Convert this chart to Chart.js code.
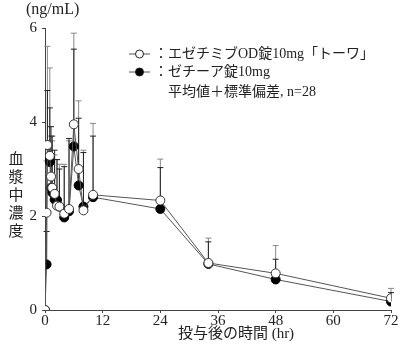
<!DOCTYPE html>
<html>
<head>
<meta charset="utf-8">
<script src="https://cdn.jsdelivr.net/npm/chart.js@4.4.0/dist/chart.umd.min.js"></script>
<style>
  html, body { margin: 0; padding: 0; background: #fff; }
  #wrap { width: 400px; height: 351px; position: relative; }
</style>
</head>
<body>
<div id="wrap"><canvas id="myChart"></canvas></div>
<script>
// ---------------- 데이터 ----------------
const hours = [0, 0.33, 0.5, 1, 1.25, 1.5, 2, 2.5, 3, 4, 5, 6, 7, 8, 10, 24, 34, 48, 72];
// エゼチミブOD錠10mg「トーワ」
const odMean = [0, 2.07, 3.51, 3.28, 2.84, 2.6, 2.47, 2.22, 2.2, 2.05, 2.15, 3.95, 3.0, 2.12, 2.45, 2.33, 1.0, 0.78, 0.25];
const odSd = [0, 1.1, 2.1, 1.87, 0.86, 1.0, 0.83, 0.98, 0.9, 1.05, 1.45, 1.94, 1.45, 1.28, 1.52, 0.88, 0.53, 0.59, 0.21];
// ゼチーア錠10mg
const zetiaMean = [0, 0.97, 3.22, 3.15, 2.6, 2.5, 2.35, 2.34, 2.2, 1.97, 2.1, 3.48, 2.65, 2.2, 2.4, 2.15, 0.98, 0.65, 0.18];
const zetiaSd = [0, 0.7, 1.45, 1.15, 1.3, 1.2, 1.05, 0.86, 0.8, 1.08, 1.55, 2.07, 1.43, 1.15, 1.3, 0.88, 0.47, 0.43, 0.19];

const xTicks = [0, 12, 24, 36, 48, 60, 72];
const yTicks = [0, 2, 4, 6];

const SERIF = "'Liberation Serif', 'Noto Sans CJK JP', serif";
const JP = "'Liberation Serif', 'Noto Sans CJK JP', sans-serif";

function toPoints(mean) {
  return hours.map((h, i) => ({ x: h, y: mean[i] }));
}

// ---------------- 에러바 (평균 + 표준편차) ----------------
const errorBarPlugin = {
  id: "errorBars",
  beforeDatasetsDraw(chart) {
    const ctx = chart.ctx;
    const xs = chart.scales.x;
    const ys = chart.scales.y;
    chart.data.datasets.forEach((ds) => {
      ctx.save();
      ctx.strokeStyle = ds.errColor;
      ctx.lineWidth = 1;
      ds.data.forEach((p, i) => {
        const sd = ds.sd[i];
        if (!sd) return;
        const px = xs.getPixelForValue(p.x);
        const y0 = ys.getPixelForValue(p.y);
        const y1 = ys.getPixelForValue(p.y + sd);
        ctx.beginPath();
        ctx.moveTo(px, y0);
        ctx.lineTo(px, y1);
        ctx.moveTo(px - 3, y1);
        ctx.lineTo(px + 3, y1);
        ctx.stroke();
      });
      ctx.restore();
    });
  },
};

// ---------------- 텍스트 (범례, 축 제목) ----------------
const textPlugin = {
  id: "texts",
  afterDraw(chart) {
    const ctx = chart.ctx;
    ctx.save();
    ctx.fillStyle = "#222";
    ctx.textBaseline = "middle";

    // 단위
    ctx.font = "16px " + SERIF;
    ctx.textAlign = "left";
    ctx.fillText("(ng/mL)", 26, 10);

    // 세로 제목
    ctx.font = "15px " + JP;
    ctx.textAlign = "center";
    const chars = "血漿中濃度".split("");
    chars.forEach((c, i) => ctx.fillText(c, 16, 160 + i * 18));

    // x축 제목
    ctx.fillText("投与後の時間 (hr)", 236, 334);

    // 범례
    const rows = [
      { y: 54, fill: "#fff", text: "：エゼチミブOD錠10mg「トーワ」" },
      { y: 72, fill: "#000", text: "：ゼチーア錠10mg" },
    ];
    rows.forEach((r) => {
      ctx.strokeStyle = "#555";
      ctx.lineWidth = 1;
      ctx.beginPath();
      ctx.moveTo(129, r.y);
      ctx.lineTo(150, r.y);
      ctx.stroke();
      ctx.beginPath();
      ctx.arc(139.5, r.y, 4, 0, Math.PI * 2);
      ctx.fillStyle = r.fill;
      ctx.fill();
      ctx.strokeStyle = "#222";
      ctx.stroke();
      ctx.fillStyle = "#222";
      ctx.font = "14px " + JP;
      ctx.textAlign = "left";
      ctx.fillText(r.text, 154, r.y);
    });
    ctx.fillText("平均値＋標準偏差, n=28", 168, 92);
    ctx.restore();
  },
};

// ---------------- 차트 ----------------
const data = {
  datasets: [
    {
      label: "エゼチミブOD錠10mg「トーワ」",
      data: toPoints(odMean),
      sd: odSd,
      errColor: "#888",
      showLine: true,
      borderColor: "#555",
      borderWidth: 1,
      pointRadius: 4.5,
      pointBackgroundColor: "#fff",
      pointBorderColor: "#333",
      pointBorderWidth: 1,
      order: 0,
    },
    {
      label: "ゼチーア錠10mg",
      data: toPoints(zetiaMean),
      sd: zetiaSd,
      errColor: "#222",
      showLine: true,
      borderColor: "#555",
      borderWidth: 1,
      pointRadius: 4.5,
      pointBackgroundColor: "#000",
      pointBorderColor: "#000",
      pointBorderWidth: 1,
      order: 1,
    },
  ],
};

const config = {
  type: "scatter",
  data: data,
  options: {
    maintainAspectRatio: false,
    responsive: true,
    animation: false,
    layout: { padding: { left: 0, top: 28, right: 9, bottom: 0 } },
    plugins: {
      legend: { display: false },
      tooltip: { enabled: false },
    },
    scales: {
      x: {
        type: "linear",
        min: 0,
        max: 72,
        afterFit: (s) => { s.height = 41; },
        afterBuildTicks: (s) => { s.ticks = xTicks.map((v) => ({ value: v })); },
        ticks: { color: "#222", font: { family: SERIF, size: 15 }, padding: -1, maxRotation: 0 },
        grid: { display: true, drawOnChartArea: false, drawTicks: true, tickLength: 3, color: "#444" },
        border: { color: "#444", width: 1 },
      },
      y: {
        min: 0,
        max: 6,
        afterFit: (s) => { s.width = 45; },
        afterBuildTicks: (s) => { s.ticks = yTicks.map((v) => ({ value: v })); },
        ticks: { color: "#222", font: { family: SERIF, size: 15 }, padding: 5 },
        grid: { display: true, drawOnChartArea: false, drawTicks: true, tickLength: 3, color: "#444" },
        border: { color: "#444", width: 1 },
      },
    },
  },
  plugins: [errorBarPlugin, textPlugin],
};

new Chart(document.getElementById("myChart"), config);
</script>
</body>
</html>
